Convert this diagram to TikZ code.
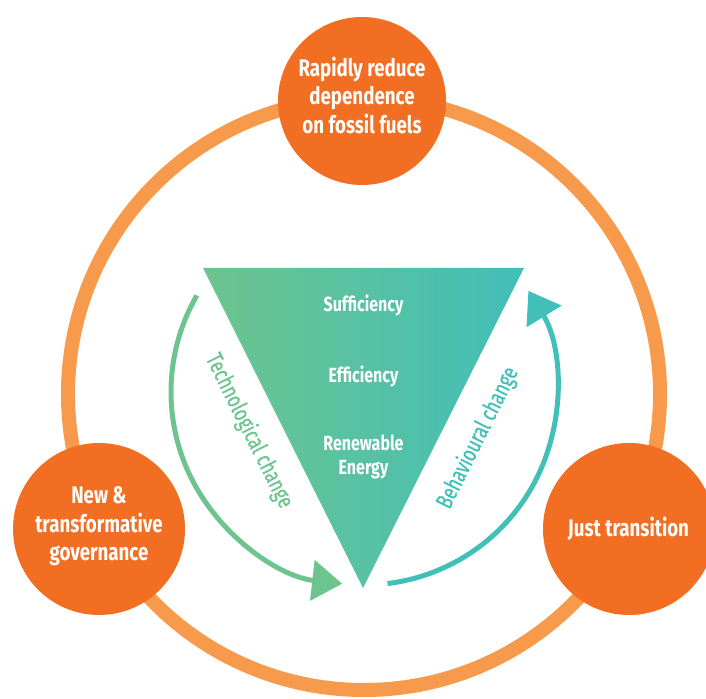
\documentclass[tikz,border=0pt]{standalone}
\usepackage{fontspec}
\usetikzlibrary{arrows.meta,calc}
\newfontfamily\kfont{Fira Sans}[FakeStretch=0.78]
\newfontfamily\lfont{Fira Sans}[FakeStretch=0.74,FakeBold=0.6]
\definecolor{ringorange}{HTML}{F79A4C}
\definecolor{circorange}{HTML}{F26E23}
\definecolor{tgreen}{HTML}{6DC48E}
\definecolor{tteal}{HTML}{41BFB9}
\tikzset{
  bigcirc/.style={circle, fill=circorange, minimum size=172pt, inner sep=0pt},
  circtext/.style={text=white, font=\kfont\bfseries\fontsize{24}{28.5}\selectfont, align=center},
  tritext/.style={text=white, font=\kfont\bfseries\fontsize{20.5}{24.3}\selectfont, align=center},
  arclabel/.style={font=\lfont\fontsize{23.5}{26}\selectfont},
  arcline/.style={line width=5pt, -{Triangle[length=30pt,width=40pt]}},
}
\begin{document}
\begin{tikzpicture}[x=1pt,y=1pt]
\useasboundingbox (0,0) rectangle (706,698);
\begin{scope}
\clip (0,0) rectangle (706,698);
% outer ring
\coordinate (ringc) at (364,304);
\draw[ringorange, line width=14pt] (ringc) circle[radius=296];
% circles
\node[bigcirc, minimum size=168pt] (top) at (362,597) {};
\node[bigcirc] (left) at (99,169) {};
\node[bigcirc] (right) at (629,169) {};
\end{scope}
\node[circtext] (toptext) at (362,603) {Rapidly reduce\\dependence\\on fossil fuels};
\node[circtext] (lefttext) at (99,171.5) {New \&\\transformative\\governance};
\node[circtext, anchor=base] (righttext) at (628.5,161) {Just transition};
% triangle
\coordinate (tl) at (203,430);
\coordinate (tr) at (524,430);
\coordinate (tb) at (363,110);
\shade[left color=tgreen, right color=tteal] (tl) -- (tr) -- (tb) -- cycle;
\node[tritext, anchor=base] (suff) at (363.5,386.3) {Sufficiency};
\node[tritext, anchor=base] (eff) at (363.5,315.3) {Efficiency};
\node[tritext] (ren) at (363.5,241) {Renewable\\Energy};
% arcs
\coordinate (arcc) at (364,306);
\coordinate (gstart) at ($(arcc)+(150:193)$);
\coordinate (tstart) at ($(arcc)+(-83:193)$);
\draw[arcline, tgreen] (gstart) arc[start angle=150, end angle=263.5, radius=193];
\draw[arcline, tteal] (tstart) arc[start angle=-83, end angle=31.6, radius=193];
\node[arclabel, text=tgreen, rotate=-63.5] (tech) at (249,267) {Technological change};
\node[arclabel, text=tteal, rotate=63.5] (behav) at (478,260) {Behavioural change};
\end{tikzpicture}
\end{document}
